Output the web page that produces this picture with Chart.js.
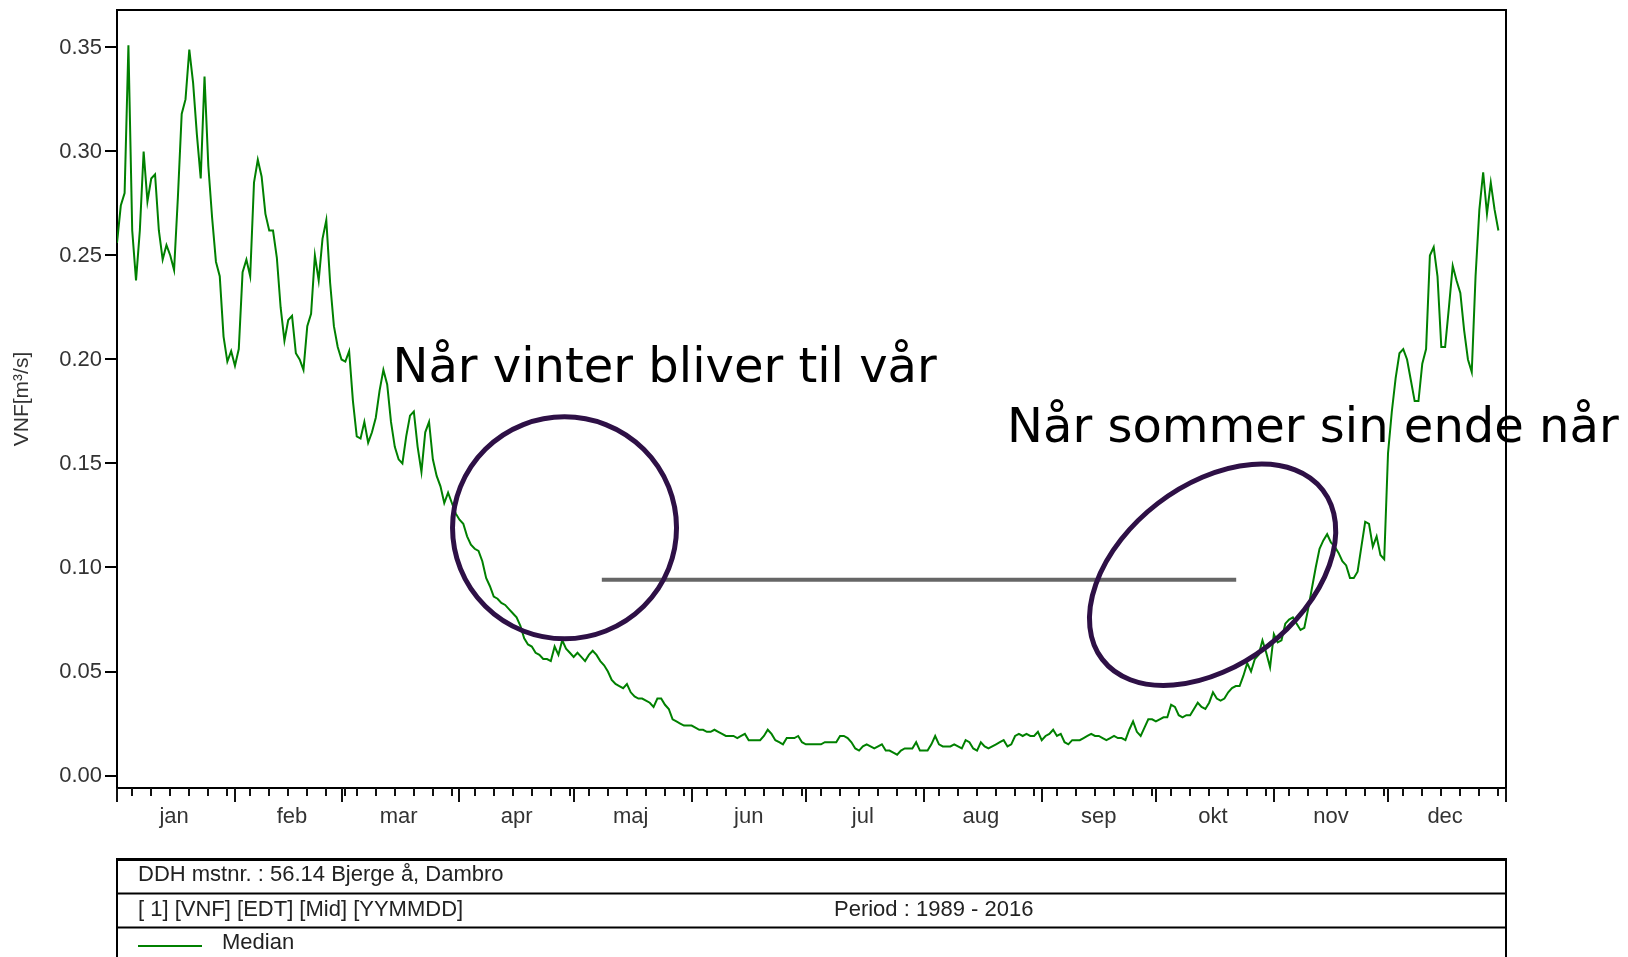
<!DOCTYPE html>
<html><head><meta charset="utf-8">
<script src="https://cdn.jsdelivr.net/npm/chart.js@4/dist/chart.umd.min.js"></script>
<style>html,body{margin:0;padding:0;background:#fff;}#wrap{width:1628px;height:957px;position:relative;}</style>
</head><body><div id="wrap"><canvas id="c" width="1628" height="957"></canvas></div>
<script>
const monthNames = ['jan','feb','mar','apr','maj','jun','jul','aug','sep','okt','nov','dec'];
const monthStartDays = [0,31,59,90,120,151,181,212,243,273,304,334,365];
const monthLabelOffset = 15;
const minorTickOffsets = [4,9,14,19,24,29];
const yTickValues = [0,0.05,0.10,0.15,0.20,0.25,0.30,0.35];
const seriesLabel = 'Median';
const yAxisTitle = 'VNF[m³/s]';
const janValues = [0.256,0.274,0.280,0.351,0.262,0.238,0.262,0.300,0.276,0.287,0.289,0.262,0.248,0.255,0.250,0.243,0.278,0.318,0.325,0.349,0.333,0.308,0.287,0.336,0.293,0.268,0.247,0.240,0.211,0.199,0.204];
const febValues = [0.197,0.205,0.242,0.248,0.240,0.285,0.296,0.288,0.270,0.262,0.262,0.249,0.225,0.209,0.219,0.221,0.203,0.200,0.195,0.216,0.222,0.250,0.238,0.258,0.267,0.237,0.216,0.206];
const marValues = [0.200,0.199,0.204,0.180,0.163,0.162,0.170,0.160,0.165,0.172,0.185,0.195,0.188,0.170,0.158,0.152,0.150,0.163,0.173,0.175,0.158,0.146,0.165,0.170,0.152,0.144,0.139,0.131,0.136,0.131,0.126];
const aprValues = [0.123,0.121,0.115,0.111,0.109,0.108,0.103,0.095,0.091,0.086,0.085,0.083,0.082,0.080,0.078,0.076,0.072,0.066,0.063,0.062,0.059,0.058,0.056,0.056,0.055,0.062,0.058,0.065,0.061,0.059];
const majValues = [0.057,0.059,0.057,0.055,0.058,0.060,0.058,0.055,0.053,0.050,0.046,0.044,0.043,0.042,0.044,0.040,0.038,0.037,0.037,0.036,0.035,0.033,0.037,0.037,0.034,0.032,0.027,0.026,0.025,0.024,0.024];
const junValues = [0.024,0.023,0.022,0.022,0.021,0.021,0.022,0.021,0.020,0.019,0.019,0.019,0.018,0.019,0.020,0.017,0.017,0.017,0.017,0.019,0.022,0.020,0.017,0.016,0.015,0.018,0.018,0.018,0.019,0.016];
const julValues = [0.015,0.015,0.015,0.015,0.015,0.016,0.016,0.016,0.016,0.019,0.019,0.018,0.016,0.013,0.012,0.014,0.015,0.014,0.013,0.014,0.015,0.012,0.012,0.011,0.010,0.012,0.013,0.013,0.013,0.016,0.012];
const augValues = [0.012,0.012,0.015,0.019,0.015,0.014,0.014,0.014,0.015,0.014,0.013,0.017,0.016,0.013,0.012,0.016,0.014,0.013,0.014,0.015,0.016,0.017,0.014,0.015,0.019,0.020,0.019,0.020,0.019,0.019,0.021];
const sepValues = [0.017,0.019,0.020,0.022,0.019,0.020,0.016,0.015,0.017,0.017,0.017,0.018,0.019,0.020,0.019,0.019,0.018,0.017,0.018,0.019,0.018,0.018,0.017,0.022,0.026,0.021,0.019,0.023,0.027,0.027];
const oktValues = [0.026,0.027,0.028,0.028,0.034,0.033,0.029,0.028,0.029,0.029,0.032,0.035,0.033,0.032,0.035,0.040,0.037,0.036,0.037,0.040,0.042,0.043,0.043,0.048,0.054,0.050,0.056,0.058,0.065,0.059,0.052];
const novValues = [0.068,0.064,0.065,0.073,0.075,0.076,0.073,0.070,0.071,0.080,0.090,0.100,0.109,0.113,0.116,0.112,0.110,0.107,0.103,0.101,0.095,0.095,0.098,0.110,0.122,0.121,0.110,0.115,0.106,0.104];
const decValues = [0.155,0.175,0.191,0.203,0.205,0.200,0.190,0.180,0.180,0.198,0.205,0.250,0.254,0.240,0.206,0.206,0.225,0.245,0.238,0.232,0.214,0.200,0.194,0.240,0.272,0.290,0.270,0.285,0.272,0.262];
const medianValues = [].concat(janValues,febValues,marValues,aprValues,majValues,junValues,julValues,augValues,sepValues,oktValues,novValues,decValues);

const refLineDays = [127.4, 294.1];
const refLineValue = 0.0941;
const annotationTexts = ['Når vinter bliver til vår','Når sommer sin ende når'];
const annotationTextDays = [72.4, 233.9];
const annotationTextValues = [0.1892, 0.1603];
const ellipseDays = [117.6, 287.9];
const ellipseValues = [0.1191, 0.0965];
const footerStation = 'DDH mstnr. : 56.14 Bjerge å, Dambro';
const footerCodes = '[ 1] [VNF] [EDT] [Mid] [YYMMDD]';
const footerPeriod = 'Period : 1989 - 2016';

const ellipseShapes = [{rx:112, ry:111, rot:0},{rx:139, ry:90, rot:-37.5*Math.PI/180}];

Chart.defaults.font.family = '"Liberation Sans", Arial, sans-serif';

const overlay = {
  id:'overlay',
  afterDraw(chart){
    const ctx = chart.ctx, xs = chart.scales.x, ys = chart.scales.y, ca = chart.chartArea;
    ctx.save();
    ctx.strokeStyle = '#111'; ctx.lineWidth = 2;
    monthStartDays.forEach(d => {
      const px = Math.round(xs.getPixelForValue(d));
      ctx.beginPath(); ctx.moveTo(px, ca.bottom); ctx.lineTo(px, ca.bottom + 14); ctx.stroke();
    });
    monthStartDays.slice(0,12).forEach(d => {
      minorTickOffsets.forEach(o => {
        const px = Math.round(xs.getPixelForValue(d + o));
        ctx.beginPath(); ctx.moveTo(px, ca.bottom); ctx.lineTo(px, ca.bottom + 8); ctx.stroke();
      });
    });
    ctx.fillStyle = '#000';
    ctx.font = '48px "DejaVu Sans"';
    ctx.textBaseline = 'alphabetic'; ctx.textAlign = 'left';
    annotationTexts.forEach((t,i) => {
      ctx.fillText(t, xs.getPixelForValue(annotationTextDays[i]), ys.getPixelForValue(annotationTextValues[i]));
    });
    ctx.strokeStyle = '#000'; ctx.lineWidth = 2;
    ctx.beginPath(); ctx.moveTo(ca.left, ca.top); ctx.lineTo(ca.right, ca.top); ctx.lineTo(ca.right, ca.bottom); ctx.stroke();
    ctx.strokeStyle = '#2e1046'; ctx.lineWidth = 5;
    ellipseDays.forEach((d,i) => {
      const s = ellipseShapes[i];
      ctx.beginPath();
      ctx.ellipse(xs.getPixelForValue(d), ys.getPixelForValue(ellipseValues[i]), s.rx, s.ry, s.rot, 0, Math.PI*2);
      ctx.stroke();
    });
    ctx.strokeStyle = '#000';
    ctx.lineWidth = 3;
    ctx.beginPath(); ctx.moveTo(ca.left, 859.5); ctx.lineTo(ca.right, 859.5); ctx.stroke();
    ctx.lineWidth = 2;
    [893.5, 927.5].forEach(y => { ctx.beginPath(); ctx.moveTo(ca.left, y); ctx.lineTo(ca.right, y); ctx.stroke(); });
    ctx.beginPath(); ctx.moveTo(ca.left, 858); ctx.lineTo(ca.left, 957); ctx.moveTo(ca.right, 858); ctx.lineTo(ca.right, 957); ctx.stroke();
    ctx.fillStyle = '#222';
    ctx.font = '22px "Liberation Sans"';
    ctx.textBaseline = 'middle';
    ctx.fillText(footerStation, 138, 875);
    ctx.fillText(footerCodes, 138, 910);
    ctx.fillText(footerPeriod, 834, 910);
    ctx.strokeStyle = chart.data.datasets[0].borderColor; ctx.lineWidth = 2;
    ctx.beginPath(); ctx.moveTo(138, 946); ctx.lineTo(202, 946); ctx.stroke();
    ctx.fillText(chart.data.datasets[0].label, 222, 943);
    ctx.restore();
  }
};

new Chart(document.getElementById('c').getContext('2d'), {
  type:'line',
  data:{datasets:[
    {label:seriesLabel, data: medianValues.map((v,i)=>({x:i,y:v})), borderColor:'#008000', borderWidth:2, pointRadius:0, tension:0, fill:false},
    {label:'ref', data: refLineDays.map(d=>({x:d,y:refLineValue})), borderColor:'#666666', borderWidth:4, pointRadius:0, fill:false}
  ]},
  options:{
    responsive:false, animation:false, devicePixelRatio:1,
    layout:{padding:{left:0, top:10, right:122, bottom:0}},
    plugins:{legend:{display:false}, tooltip:{enabled:false}},
    scales:{
      x:{type:'linear', min:0, max:365,
        afterBuildTicks: s => { s.ticks = monthStartDays.slice(0,12).map(d => ({value: d + monthLabelOffset})); },
        afterFit: s => { s.height = 169; s.paddingLeft = 0; s.paddingRight = 0; },
        ticks:{autoSkip:false, maxRotation:0, padding:16, color:'#333', font:{size:22}, callback:(v,i)=>monthNames[i]},
        grid:{drawOnChartArea:false, drawTicks:false},
        border:{color:'#000', width:2}
      },
      y:{type:'linear', min:-0.006, max:0.368,
        afterBuildTicks: s => { s.ticks = yTickValues.map(v => ({value:v})); },
        afterFit: s => { s.width = 117; s.paddingTop = 0; s.paddingBottom = 0; },
        ticks:{padding:3, color:'#333', font:{size:22}, callback:v => Number(v).toFixed(2)},
        grid:{drawOnChartArea:false, drawTicks:true, tickLength:12, color:'#000', lineWidth:2},
        border:{color:'#000', width:2},
        title:{display:true, text:yAxisTitle, color:'#333', font:{size:21}, padding:{top:10, bottom:0}}
      }
    }
  },
  plugins:[overlay]
});
</script></body></html>
